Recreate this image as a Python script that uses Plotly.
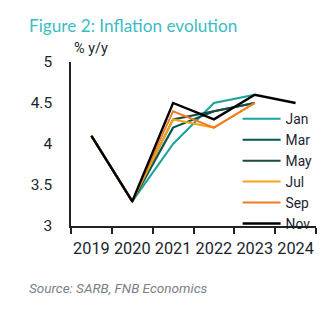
import plotly.graph_objects as go

# Years on the category axis
years = ["2019", "2020", "2021", "2022", "2023", "2024"]

# Inflation projections by MPC meeting (% y/y)
jan = [4.1, 3.3, 4.0, 4.5, 4.6]
mar = [4.1, 3.3, 4.2, 4.4, 4.5]
may = [4.1, 3.3, 4.3, 4.4, 4.5]
jul = [4.1, 3.3, 4.3, 4.2, 4.5]
sep = [4.1, 3.3, 4.4, 4.2, 4.5]
nov = [4.1, 3.3, 4.5, 4.3, 4.6, 4.5]

series = [
    ("Jan", jan, "#1aa39c", 2),
    ("Mar", mar, "#00594f", 2.2),
    ("May", may, "#1d4a42", 2),
    ("Jul", jul, "#f9a11b", 2),
    ("Sep", sep, "#f37a21", 2),
    ("Nov", nov, "#000000", 2.4),
]

text_color = "#1c1f2e"
fig = go.Figure()
for name, vals, color, width in series:
    fig.add_trace(go.Scatter(
        x=years[:len(vals)], y=vals, name=name, mode="lines",
        line=dict(color=color, width=width),
    ))

fig.update_layout(
    width=335, height=321,
    margin=dict(l=71, r=19, t=62, b=95),
    paper_bgcolor="white", plot_bgcolor="white",
    font=dict(family="Roboto, sans-serif", color=text_color, size=15),
    showlegend=True,
    legend=dict(
        x=0.68, y=0.748, xanchor="left", yanchor="top",
        bgcolor="rgba(0,0,0,0)", font=dict(size=13.8, color=text_color),
        itemwidth=38, tracegroupgap=0,
    ),
    xaxis=dict(
        type="category", categoryorder="array", categoryarray=years,
        range=[-0.5, 5.5], tickson="boundaries", ticks="outside",
        ticklen=6, tickwidth=1.5, tickcolor="#222", tickangle=0,
        showline=True, linecolor="#222", linewidth=1.5,
        showgrid=False, zeroline=False, tickfont=dict(size=16.3),
        ticklabelstandoff=7,
    ),
    yaxis=dict(
        range=[3, 5], tickvals=[3, 3.5, 4, 4.5, 5],
        ticktext=["3", "3.5", "4", "4.5", "5"],
        showline=True, linecolor="#222", linewidth=1.5,
        showgrid=False, zeroline=False, ticks="",
        ticklabelstandoff=14, tickfont=dict(size=15.5),
    ),
)

# Place the header, unit label and source in pixel-equivalent paper coordinates
pw, ph = 335 - 71 - 19, 321 - 62 - 95
def px(x):
    return (x - 71) / pw
def py(y):
    return (321 - 95 - y) / ph

fig.update_layout(annotations=[
    dict(text="Figure 2: Inflation evolution", x=px(27), y=py(25),
         xref="paper", yref="paper", xanchor="left", yanchor="middle",
         showarrow=False, font=dict(family="Lato, sans-serif", size=17.2, color="#3bbcc4")),
    dict(text="% y/y", x=px(72), y=py(49),
         xref="paper", yref="paper", xanchor="left", yanchor="middle",
         showarrow=False, font=dict(size=14.5, color=text_color)),
    dict(text="<i>Source: SARB, FNB Economics</i>", x=px(27), y=py(288),
         xref="paper", yref="paper", xanchor="left", yanchor="middle",
         showarrow=False, font=dict(size=13.5, color="#7b7f88")),
])

fig.write_html("out.html")
